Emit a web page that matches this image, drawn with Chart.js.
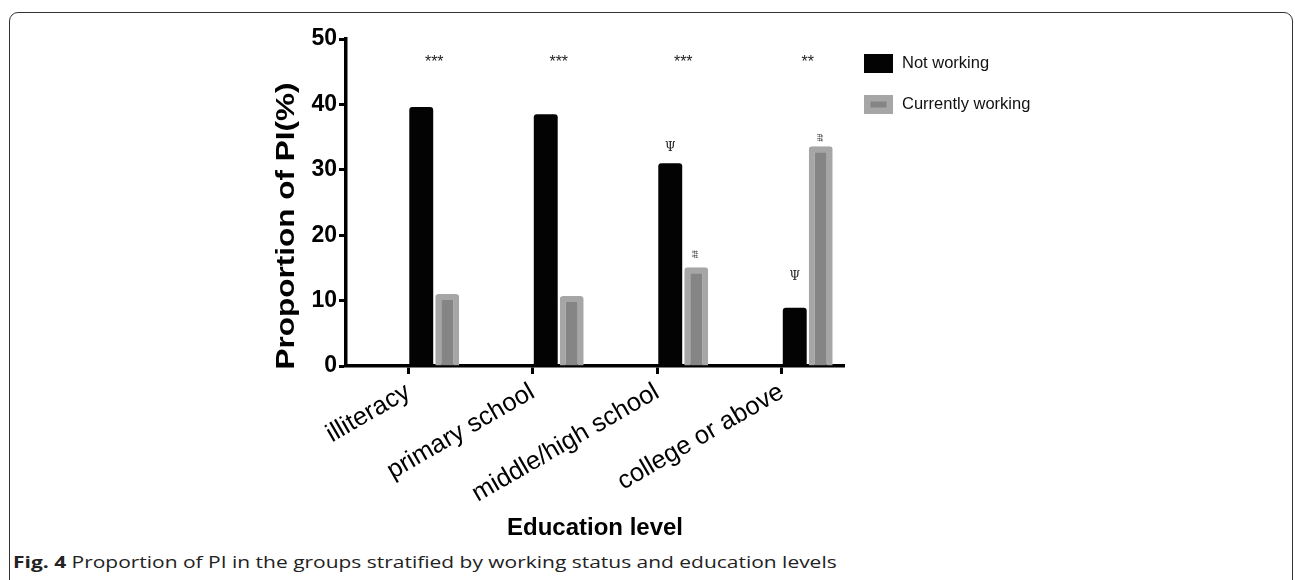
<!DOCTYPE html>
<html>
<head>
<meta charset="utf-8">
<script src="https://cdn.jsdelivr.net/npm/chart.js@4"></script>
<style>
  html, body { margin: 0; padding: 0; background: #fff; }
  body { width: 1295px; height: 580px; overflow: hidden; position: relative; }
  .frame {
    position: absolute; left: 9px; top: 12px; width: 1284px; height: 620px;
    border: 1.4px solid #333; border-radius: 9px; box-sizing: border-box;
  }
  #wrap { position: absolute; left: 0; top: 0; width: 1295px; height: 545px; }
  .caption {
    position: absolute; left: 13px; top: 550px;
    font-family: "Open Sans", "Noto Sans", sans-serif; font-size: 16.5px; color: #222;
    white-space: nowrap; transform: scaleX(1.27); transform-origin: 0 50%;
  }
  .caption b { font-weight: 700; }
</style>
</head>
<body>
<div class="frame"></div>
<div id="wrap"><canvas id="chart" width="1295" height="545"></canvas></div>
<div class="caption"><b>Fig. 4</b> Proportion of PI in the groups stratified by working status and education levels</div>
<script>
// Education groups on the x axis
const categories = ['illiteracy', 'primary school', 'middle/high school', 'college or above'];

// Proportion of PI (%) per group
const notWorking = [39.6, 38.5, 31.0, 8.9];
const currentlyWorking = [11.0, 10.7, 15.1, 33.6];

// y axis ticks and title
const yTicks = [0, 10, 20, 30, 40, 50];
const yTitle = 'Proportion of PI(%)';

// Significance between working statuses within each group
const groupSignificance = ['***', '***', '***', '**'];
const sigLevel = 47;

// Marks versus the reference education level, with the height they sit at
const psiMarks = ['', '', 'Ψ', 'Ψ'];
const psiLevels = [null, null, 33.4, 13.6];
const hashMarks = ['', '', '##', '##'];
const hashLevels = [null, null, 17.1, 34.9];

const FONT = '"Liberation Sans", Arial, Helvetica, sans-serif';

// two empty leading slots keep each pair of bars to the right of its tick
const datasets = [
  { label: '', data: categories.map(() => null), backgroundColor: 'rgba(0,0,0,0)', spacer: true },
  { label: '', data: categories.map(() => null), backgroundColor: 'rgba(0,0,0,0)', spacer: true },
  {
    label: 'Not working', data: notWorking,
    backgroundColor: '#030303', borderWidth: 0, borderRadius: 3
  },
  {
    label: 'Currently working', data: currentlyWorking,
    backgroundColor: '#858585', borderColor: '#a6a6a6', borderWidth: 6,
    borderSkipped: 'start', borderRadius: 3
  }
];

// wide, bold title running up the y axis
const yAxisTitle = {
  id: 'yAxisTitle',
  afterDraw(chart) {
    const { ctx, scales: { y } } = chart;
    ctx.save();
    ctx.translate(y.left + 287, y.bottom - 140);
    ctx.rotate(-Math.PI / 2);
    ctx.scale(1.26, 1);
    ctx.font = 'bold 25px ' + FONT;
    ctx.fillStyle = '#000';
    ctx.textAlign = 'center';
    ctx.textBaseline = 'middle';
    ctx.fillText(yTitle, 0, 0);
    ctx.restore();
  }
};

const annotations = {
  id: 'annotations',
  afterDatasetsDraw(chart) {
    const { ctx, scales: { y } } = chart;
    const metaA = chart.getDatasetMeta(2);
    const metaB = chart.getDatasetMeta(3);
    ctx.save();
    ctx.fillStyle = '#222';
    ctx.textAlign = 'center';
    ctx.textBaseline = 'middle';
    categories.forEach((c, i) => {
      const xa = metaA.data[i].x, xb = metaB.data[i].x;
      ctx.font = '16px ' + FONT;
      ctx.fillText(groupSignificance[i], (xa + xb) / 2, y.getPixelForValue(sigLevel) + 4);
      if (psiMarks[i]) {
        ctx.font = '12px "DejaVu Serif", "Liberation Serif", serif';
        ctx.fillText(psiMarks[i], xa, y.getPixelForValue(psiLevels[i]));
      }
      if (hashMarks[i]) {
        ctx.save();
        ctx.translate(xb, y.getPixelForValue(hashLevels[i]));
        ctx.rotate(-Math.PI / 2);
        ctx.font = '8px "Liberation Serif", serif';
        ctx.fillText(hashMarks[i], 0, 0);
        ctx.restore();
      }
    });
    ctx.restore();
  }
};

const sideLegend = {
  id: 'sideLegend',
  afterDraw(chart) {
    const { ctx, chartArea } = chart;
    const x0 = chartArea.right + 20;
    let yTop = 54;
    ctx.save();
    chart.data.datasets.filter(d => !d.spacer).forEach(d => {
      const w = 29, h = 19;
      if (d.borderWidth) {
        ctx.fillStyle = d.borderColor;
        ctx.fillRect(x0, yTop, w, h);
        ctx.fillStyle = d.backgroundColor;
        ctx.fillRect(x0 + 6.5, yTop + 6.5, w - 13, h - 13);
      } else {
        ctx.fillStyle = d.backgroundColor;
        ctx.fillRect(x0, yTop, w, h);
      }
      ctx.fillStyle = '#111';
      ctx.font = '16.5px ' + FONT;
      ctx.textAlign = 'left';
      ctx.textBaseline = 'middle';
      ctx.fillText(d.label, x0 + 38, yTop + h / 2);
      yTop += 41;
    });
    ctx.restore();
  }
};

new Chart(document.getElementById('chart'), {
  type: 'bar',
  data: { labels: categories, datasets },
  plugins: [annotations, sideLegend, yAxisTitle],
  options: {
    responsive: false,
    animation: false,
    layout: { padding: { left: 0, right: 451, top: 39, bottom: 0 } },
    datasets: { bar: { categoryPercentage: 0.835, barPercentage: 0.92 } },
    plugins: { legend: { display: false }, tooltip: { enabled: false } },
    scales: {
      x: {
        offset: true,
        grid: { offset: false, drawOnChartArea: false, drawTicks: true, tickLength: 8, tickWidth: 3, tickColor: '#000' },
        border: { display: true, color: '#000', width: 3.5 },
        ticks: {
          color: '#000', font: { family: FONT, size: 25.5 },
          minRotation: 30, maxRotation: 30, padding: 3, autoSkip: false
        },
        title: {
          display: true, text: 'Education level', color: '#000',
          font: { family: FONT, size: 24, weight: 'bold' }, padding: { top: 0, bottom: 2 }
        },
        afterFit(s) { s.height = 179; }
      },
      y: {
        min: 0, max: 50,
        afterBuildTicks(s) { s.ticks = yTicks.map(v => ({ value: v })); },
        grid: { drawOnChartArea: false, drawTicks: true, tickLength: 7, tickWidth: 3, tickColor: '#000' },
        border: { display: true, color: '#000', width: 3.5 },
        ticks: { color: '#000', font: { family: FONT, size: 23, weight: 'bold' }, padding: 2 },
        title: { display: false },
        afterFit(s) { s.width = 346; }
      }
    }
  }
});
</script>
</body>
</html>
